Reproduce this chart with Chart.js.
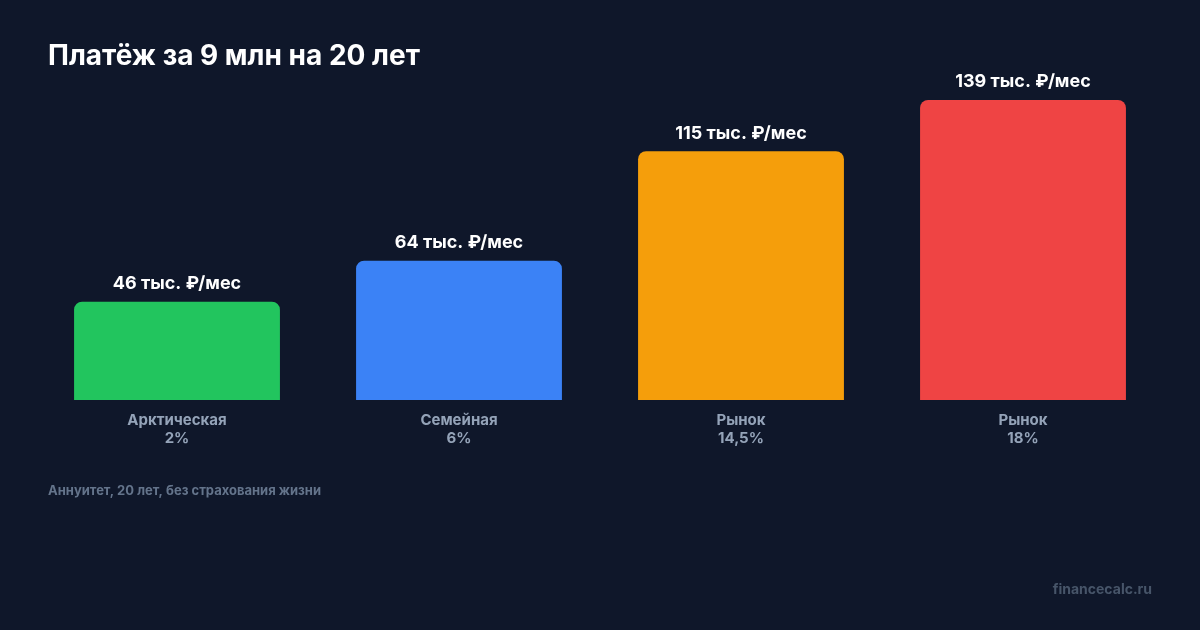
<!DOCTYPE html>
<html>
<head>
<meta charset="utf-8">
<script src="https://cdn.jsdelivr.net/npm/chart.js@4.4.1/dist/chart.umd.min.js"></script>
<style>
  html, body { margin: 0; padding: 0; background: #0f172a; }
  #wrap { position: relative; width: 1200px; height: 630px; }
  canvas { display: block; }
</style>
</head>
<body>
<div id="wrap"><canvas id="c" width="1200" height="630"></canvas></div>
<script>
const categories = ['Арктическая', 'Семейная', 'Рынок', 'Рынок'];
const rates = ['2%', '6%', '14,5%', '18%'];
const payments = [45.5, 64.5, 115.2, 138.9];
const valueLabels = ['46 тыс. ₽/мес', '64 тыс. ₽/мес', '115 тыс. ₽/мес', '139 тыс. ₽/мес'];
const barColors = ['#22c55e', '#3b82f6', '#f59e0b', '#ef4444'];
const titleText = 'Платёж за 9 млн на 20 лет';
const footnoteText = 'Аннуитет, 20 лет, без страхования жизни';
const sourceText = 'financecalc.ru';

const FONT = 'Inter, "Noto Sans", "DejaVu Sans", sans-serif';

const overlay = {
  id: 'overlay',
  afterDatasetsDraw(chart) {
    const ctx = chart.ctx;
    ctx.save();
    const meta = chart.getDatasetMeta(0);
    ctx.fillStyle = '#ffffff';
    ctx.font = '700 18px ' + FONT;
    ctx.textAlign = 'center';
    ctx.textBaseline = 'middle';
    meta.data.forEach((bar, i) => {
      ctx.fillText(valueLabels[i], bar.x, bar.y - 18);
    });
    ctx.textAlign = 'left';
    ctx.font = '700 28px ' + FONT;
    ctx.fillText(titleText, 48, 57);
    ctx.fillStyle = '#64748b';
    ctx.font = '700 13px ' + FONT;
    ctx.fillText(footnoteText, 48, 491);
    ctx.fillStyle = '#475569';
    ctx.font = '700 14px ' + FONT;
    ctx.textAlign = 'right';
    ctx.fillText(sourceText, 1152, 590);
    ctx.restore();
  }
};

new Chart(document.getElementById('c'), {
  type: 'bar',
  data: {
    labels: categories.map((c, i) => [c, rates[i]]),
    datasets: [{
      data: payments,
      backgroundColor: barColors,
      borderRadius: 8,
      borderSkipped: 'start',
      categoryPercentage: 1,
      barPercentage: 0.73
    }]
  },
  options: {
    responsive: false,
    animation: false,
    devicePixelRatio: 1,
    layout: { padding: { left: 36, right: 36, top: 100, bottom: 170 } },
    plugins: { legend: { display: false }, tooltip: { enabled: false }, title: { display: false } },
    scales: {
      x: {
        grid: { display: false, drawTicks: false },
        border: { display: false },
        ticks: {
          color: '#94a3b8',
          font: { family: FONT, size: 15, weight: '700', lineHeight: 1.2 },
          padding: 11,
          maxRotation: 0,
          autoSkip: false
        },
        afterFit(s) { s.height = 60; }
      },
      y: {
        display: false,
        min: 0,
        max: 138.9
      }
    }
  },
  plugins: [overlay]
});
</script>
</body>
</html>
